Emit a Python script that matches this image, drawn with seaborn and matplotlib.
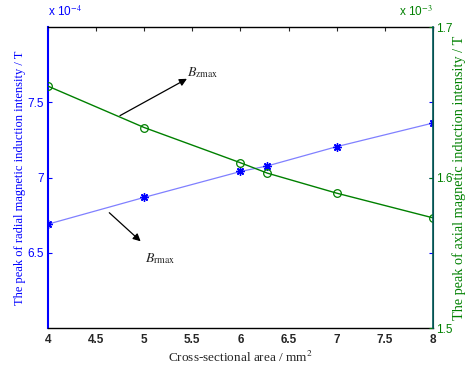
import numpy as np
import pandas as pd
import seaborn as sns
import matplotlib
matplotlib.use('Agg')
import matplotlib.pyplot as plt

# data
area = [4, 5, 6, 6.28, 7, 8]                               # mm^2
b_rmax = [6.69, 6.868, 7.04, 7.077, 7.205, 7.362]          # x 1e-4 T
b_zmax = [1.6607, 1.6332, 1.6098, 1.6029, 1.5896, 1.5732]  # x 1e-3 T

x_ticks = [4, 4.5, 5, 5.5, 6, 6.5, 7, 7.5, 8]
left_ticks = [6.5, 7, 7.5]
right_ticks = [1.5, 1.6, 1.7]

sns.set_style("white")
plt.rcParams['mathtext.fontset'] = 'stix'
plt.rcParams['font.family'] = ['Liberation Sans', 'DejaVu Sans']

df = pd.DataFrame({'area': area, 'br': b_rmax, 'bz': b_zmax})

blue = '#0000ff'
green = '#008000'
serif = ['Liberation Serif', 'DejaVu Serif']

fig = plt.figure(figsize=(4.66, 3.7), dpi=100)
ax = fig.add_axes([0.103, 0.1135, 0.826, 0.8135])
ax2 = ax.twinx()

# matlab-style asterisk marker for the radial series
sns.lineplot(data=df, x='area', y='br', ax=ax, color='#8080ff', lw=0.9,
             marker=(8, 2, 0), markersize=6, markeredgewidth=1.0,
             markerfacecolor=blue, markeredgecolor=blue)
sns.lineplot(data=df, x='area', y='bz', ax=ax2, color=green, lw=1.0,
             marker='o', markersize=5.5, markerfacecolor='none',
             markeredgecolor=green, markeredgewidth=0.9)

ax.set_xlim(4, 8)
ax.set_ylim(6, 8)
ax2.set_ylim(1.5, 1.7)
ax.set_xticks(x_ticks)
ax.set_xticklabels([f'{t:g}' for t in x_ticks], fontweight='bold', fontsize=8.5)
ax.set_yticks(left_ticks)
ax.set_yticklabels([f'{t:g}' for t in left_ticks], color=blue, fontsize=8.5)
ax2.set_yticks(right_ticks)
ax2.set_yticklabels([f'{t:g}' for t in right_ticks], color=green, fontsize=8.5)

ax.tick_params(axis='x', direction='in', length=3, top=True, width=0.8, pad=4)
ax.tick_params(axis='y', direction='in', length=3, right=True, color=blue, width=0.8, pad=3)
ax2.tick_params(axis='y', direction='in', length=3, color=green, width=0.8, pad=2)

for s in ['top', 'bottom']:
    ax.spines[s].set_color('black')
    ax.spines[s].set_linewidth(1.0)
ax.spines['left'].set_color(blue)
ax.spines['left'].set_linewidth(1.5)
ax2.spines['right'].set_color('#005a5a')
ax2.spines['right'].set_linewidth(1.2)
ax2.spines['left'].set_visible(False)
ax2.spines['top'].set_visible(False)
ax2.spines['bottom'].set_visible(False)

ax.set_xlabel('Cross-sectional area / mm$^2$', family=serif, fontsize=9.5, labelpad=3)
ax.set_ylabel('The peak of radial magnetic induction intensity / T',
              family=serif, fontsize=9, color=blue, labelpad=1)
ax2.set_ylabel('The peak of axial magnetic induction intensity / T',
               family=serif, fontsize=10.3, color=green, labelpad=0)

ax.text(0.0, 1.025, r'x 10$^{-4}$', transform=ax.transAxes, color=blue,
        fontsize=8.5, ha='left', va='bottom')
ax2.text(1.0, 1.025, r'x 10$^{-3}$', transform=ax2.transAxes, color=green,
         fontsize=8.5, ha='right', va='bottom')

ax.annotate('', xy=(5.444, 7.656), xytext=(4.748, 7.411),
            arrowprops=dict(arrowstyle='-|>', color='black', lw=0.9,
                            mutation_scale=11, shrinkA=0, shrinkB=0))
ax.annotate('', xy=(4.963, 6.576), xytext=(4.637, 6.766),
            arrowprops=dict(arrowstyle='-|>', color='black', lw=0.9,
                            mutation_scale=11, shrinkA=0, shrinkB=0))
ax.text(5.444, 7.70, r'$\mathit{B}_{\mathrm{zmax}}$', fontsize=10, ha='left', va='center')
ax.text(5.008, 6.46, r'$\mathit{B}_{\mathrm{rmax}}$', fontsize=10, ha='left', va='center')

fig.savefig('out.png', dpi=100)
